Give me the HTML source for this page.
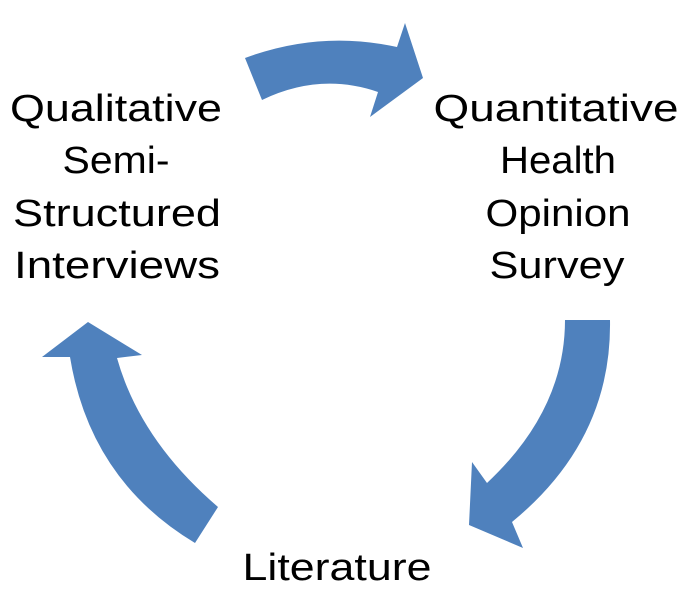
<!DOCTYPE html>
<html><head><meta charset="utf-8"><style>
html,body{margin:0;padding:0;background:#fff;}
svg{display:block;}
text{font-family:"Liberation Sans",sans-serif;font-size:38px;fill:#000;}
</style></head><body>
<svg width="689" height="592" viewBox="0 0 689 592" xmlns="http://www.w3.org/2000/svg">
<g fill="#4f81bd">
<path d="M245,58 Q320,30 397,47 L405,23 L423,78 L370,117 L378,92 Q320,72 262,100 Z"/>
<path d="M610,320 Q612,440 512,522 L523,548 L469,525 L472,462 L487,483 Q565,410 565,320 Z"/>
<path d="M218,507 Q140,440 117,358 L142,355 L88,322 L42,357 L70,357 Q90,480 195,543 Z"/>
</g>
<text x="116" y="121" text-anchor="middle" textLength="212" lengthAdjust="spacingAndGlyphs">Qualitative</text>
<text x="116" y="173" text-anchor="middle" textLength="107" lengthAdjust="spacingAndGlyphs">Semi-</text>
<text x="117" y="226" text-anchor="middle" textLength="208" lengthAdjust="spacingAndGlyphs">Structured</text>
<text x="117" y="278" text-anchor="middle" textLength="206" lengthAdjust="spacingAndGlyphs">Interviews</text>
<text x="556" y="121" text-anchor="middle" textLength="245" lengthAdjust="spacingAndGlyphs">Quantitative</text>
<text x="558" y="173" text-anchor="middle" textLength="116" lengthAdjust="spacingAndGlyphs">Health</text>
<text x="558" y="226" text-anchor="middle" textLength="145" lengthAdjust="spacingAndGlyphs">Opinion</text>
<text x="557" y="278" text-anchor="middle" textLength="135" lengthAdjust="spacingAndGlyphs">Survey</text>
<text x="337" y="580" text-anchor="middle" textLength="189" lengthAdjust="spacingAndGlyphs">Literature</text>
</svg>
</body></html>
